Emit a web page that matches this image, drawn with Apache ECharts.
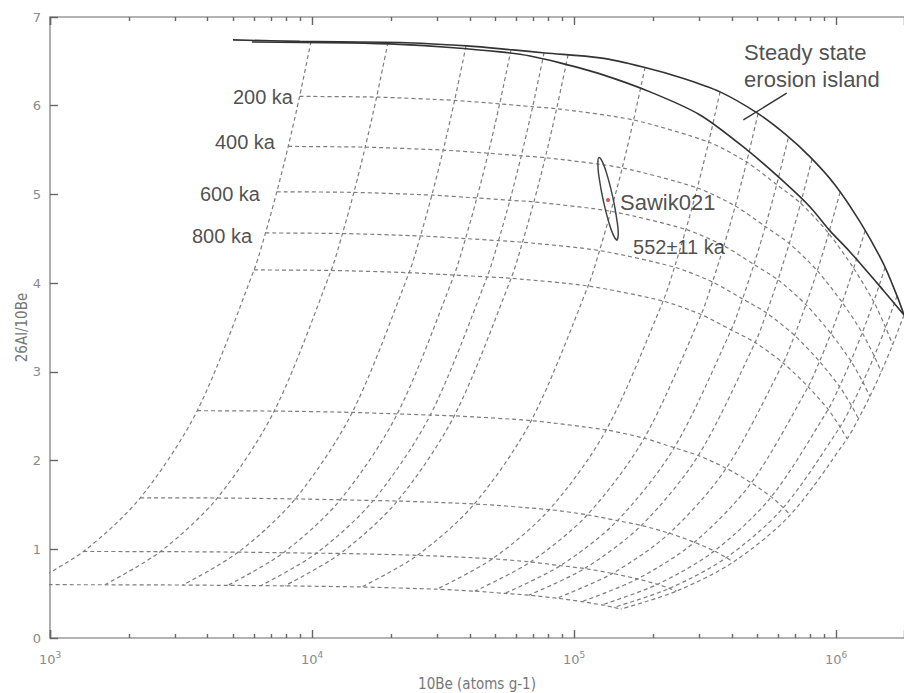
<!DOCTYPE html>
<html><head><meta charset="utf-8">
<script src="https://cdn.jsdelivr.net/npm/echarts@6/dist/echarts.min.js"></script>
<style>html,body{margin:0;padding:0;background:#fff}#c{width:904px;height:693px}</style>
</head><body><div id="c"></div>
<script>
// ---- axis ranges & ticks ----
const xMin = 1000, xMax = 1817000;
const majorTicks = [1000, 10000, 100000, 1000000];
const minorTicks = [2000,3000,4000,5000,6000,7000,8000,9000,
  20000,30000,40000,50000,60000,70000,80000,90000,
  200000,300000,400000,500000,600000,700000,800000,900000];

// ---- steady-state erosion island (solid curves) ----
const upperBe = [4994, 9000, 21670, 39040, 58500, 77500, 125660, 183400, 260000, 360800, 499400, 640000, 796000, 991300, 1235000, 1511000, 1709000, 1817000];
const upperAl = [6.742, 6.725, 6.713, 6.674, 6.629, 6.595, 6.539, 6.437, 6.310, 6.156, 5.919, 5.680, 5.423, 5.107, 4.690, 4.228, 3.856, 3.641];
const lowerBe = [5900, 9000, 13960, 21670, 33630, 52190, 67950, 88440, 125660, 195000, 302600, 457400, 638800, 796000, 948700, 1131000, 1511000, 1817000];
const lowerAl = [6.719, 6.714, 6.708, 6.691, 6.657, 6.607, 6.561, 6.483, 6.359, 6.156, 5.896, 5.502, 5.130, 4.859, 4.589, 4.352, 3.923, 3.641];

// ---- burial grid: isochron nodes (one value per erosion-rate line) ----
const iso0Be    = [9910, 19500, 38700, 57480, 76830, 94870, 186600, 360800, 503800, 656000, 809900, 1035800, 1290300, 1538200, 1709000, 1817000];
const iso0Al    = [6.724, 6.715, 6.674, 6.631, 6.596, 6.572, 6.431, 6.156, 5.910, 5.629, 5.398, 5.024, 4.590, 4.175, 3.856, 3.641];
const iso200Be  = [8967, 17640, 35020, 52010, 69520, 85840, 168800, 326500, 455800, 593600, 732800, 937200, 1167000, 1392000, 1546000, 1644000];
const iso200Al  = [6.105, 6.097, 6.060, 6.021, 5.989, 5.967, 5.839, 5.590, 5.366, 5.111, 4.901, 4.562, 4.168, 3.791, 3.501, 3.306];
const iso400Be  = [8113, 15960, 31680, 47060, 62900, 77670, 152800, 295400, 412500, 537100, 663100, 848000, 1056000, 1259000, 1399000, 1488000];
const iso400Al  = [5.541, 5.533, 5.499, 5.464, 5.435, 5.415, 5.299, 5.073, 4.870, 4.638, 4.448, 4.140, 3.782, 3.440, 3.177, 3.000];
const iso600Be  = [7341, 14450, 28670, 42580, 56920, 70280, 138200, 267300, 373200, 486000, 600000, 767300, 955800, 1139000, 1266000, 1346000];
const iso600Al  = [5.030, 5.023, 4.992, 4.960, 4.934, 4.916, 4.810, 4.605, 4.421, 4.210, 4.038, 3.758, 3.433, 3.123, 2.884, 2.723];
const iso800Be  = [6643, 13070, 25940, 38530, 51500, 63590, 125100, 241800, 337700, 439700, 542900, 694300, 864900, 1031000, 1146000, 1218000];
const iso800Al  = [4.566, 4.559, 4.532, 4.502, 4.479, 4.462, 4.367, 4.180, 4.013, 3.822, 3.665, 3.411, 3.117, 2.835, 2.618, 2.472];
const iso1000Be = [6010, 11830, 23470, 34860, 46600, 57540, 113200, 218800, 305600, 397900, 491200, 628200, 782600, 932900, 1036000, 1102000];
const iso1000Al = [4.149, 4.143, 4.118, 4.091, 4.070, 4.055, 3.968, 3.798, 3.646, 3.473, 3.331, 3.100, 2.832, 2.576, 2.379, 2.246];
const iso2000Be = [3646, 7174, 14240, 21150, 28270, 34900, 68650, 132700, 185300, 241300, 298000, 381100, 474700, 565900, 628700, 668500];
const iso2000Al = [2.562, 2.558, 2.543, 2.526, 2.513, 2.504, 2.450, 2.345, 2.252, 2.145, 2.057, 1.914, 1.749, 1.591, 1.469, 1.387];
const iso3000Be = [2211, 4350, 8634, 12820, 17140, 21170, 41630, 80500, 112400, 146400, 180700, 231100, 287900, 343200, 381300, 405400];
const iso3000Al = [1.580, 1.578, 1.568, 1.558, 1.550, 1.544, 1.511, 1.447, 1.389, 1.323, 1.269, 1.181, 1.079, 0.981, 0.906, 0.856];
const iso4000Be = [1341, 2638, 5236, 7777, 10400, 12840, 25250, 48820, 68160, 88760, 109600, 140100, 174600, 208100, 231200, 245800];
const iso4000Al = [0.975, 0.974, 0.968, 0.961, 0.956, 0.953, 0.932, 0.893, 0.857, 0.816, 0.783, 0.728, 0.666, 0.605, 0.559, 0.528];
const iso5000Be = [822, 1619, 3212, 4771, 6377, 7874, 15490, 29950, 41820, 54450, 67220, 85970, 107100, 127700, 141800, 150800];
const iso5000Al = [0.601, 0.600, 0.597, 0.593, 0.590, 0.588, 0.575, 0.550, 0.528, 0.503, 0.483, 0.449, 0.410, 0.373, 0.345, 0.326];

// ---- sample ----
const sampleBe = 134800, sampleAl = 4.938;
const ellipseBe = [145900, 147500, 145500, 140800, 134500, 128600, 124600, 123300, 124900, 129200, 135200, 141400, 145900];
const ellipseAl = [4.481, 4.549, 4.725, 4.962, 5.194, 5.361, 5.417, 5.349, 5.174, 4.937, 4.705, 4.538, 4.481];

// ---- annotations ----
const ageLabels = ['200 ka', '400 ka', '600 ka', '800 ka'];
const ageLabelBe = [8460, 7223, 6331, 5902];
const ageLabelAl = [6.099, 5.592, 5.006, 4.532];
const islandLabel = 'Steady state\nerosion island';
const islandLabelPos = [445700, 6.443];
const leaderBe = [442900, 648300];
const leaderAl = [5.840, 6.141];
const sampleName = 'Sawik021';
const sampleNamePos = [149800, 4.904];
const sampleAge = '552±11 ka';
const sampleAgePos = [168000, 4.408];

const zip = (a, b) => a.map((v, i) => [v, b[i]]);
const isoBe = [iso0Be, iso200Be, iso400Be, iso600Be, iso800Be, iso1000Be, iso2000Be, iso3000Be, iso4000Be, iso5000Be];
const isoAl = [iso0Al, iso200Al, iso400Al, iso600Al, iso800Al, iso1000Al, iso2000Al, iso3000Al, iso4000Al, iso5000Al];

const dash = {type: [4, 3], color: '#7d7d7d', width: 1.2};
const series = [];
for (let i = 1; i < isoBe.length; i++) {
  series.push({type: 'line', data: zip(isoBe[i], isoAl[i]), symbol: 'none', smooth: 0.25,
    lineStyle: dash, silent: true, z: 2});
}
for (let j = 0; j < iso0Be.length; j++) {
  series.push({type: 'line', data: isoBe.map((r, i) => [r[j], isoAl[i][j]]), symbol: 'none', smooth: 0.3,
    lineStyle: dash, silent: true, z: 2});
}
series.push({type: 'line', data: zip(upperBe, upperAl), symbol: 'none', smooth: 0.3,
  lineStyle: {color: '#333', width: 1.6}, z: 5});
series.push({type: 'line', data: zip(lowerBe, lowerAl), symbol: 'none', smooth: 0.3,
  lineStyle: {color: '#333', width: 1.6}, z: 5});
series.push({type: 'line', data: zip(leaderBe, leaderAl), symbol: 'none',
  lineStyle: {color: '#333', width: 1.4}, z: 5});
series.push({type: 'line', data: zip(ellipseBe, ellipseAl), symbol: 'none', smooth: true,
  lineStyle: {color: '#444', width: 1.5}, z: 6});
series.push({type: 'scatter', data: [[sampleBe, sampleAl]], symbolSize: 4,
  itemStyle: {color: '#e02020'}, z: 7});

const txt = {color: '#222', fontSize: 20, fontFamily: 'Liberation Sans, Arial, sans-serif'};
series.push({type: 'scatter', symbolSize: 0, z: 8, silent: true,
  data: ageLabels.map((t, i) => ({value: [ageLabelBe[i], ageLabelAl[i]],
    label: {show: true, position: 'inside', formatter: t, align: 'right', verticalAlign: 'middle', ...txt}}))
    .concat([
      {value: islandLabelPos, label: {show: true, position: 'inside', formatter: islandLabel, align: 'left',
        verticalAlign: 'middle', lineHeight: 27, ...txt, fontSize: 22}},
      {value: sampleNamePos, label: {show: true, position: 'inside', formatter: sampleName, align: 'left',
        verticalAlign: 'middle', ...txt, fontSize: 22}},
      {value: sampleAgePos, label: {show: true, position: 'inside', formatter: sampleAge, align: 'left',
        verticalAlign: 'middle', ...txt}}
    ])
});

const axisGray = '#9a9a9a', labelGray = '#8a8a8a', tickGray = '#666';
// minor tick axes work in decades (log10 of the 10Be axis) so the 2..9 ticks sit on the log scale
const minorAxis = (pos) => ({type: 'value', gridIndex: 0, position: pos,
  min: Math.log10(xMin), max: Math.log10(xMax),
  axisLine: {show: false}, splitLine: {show: false}, axisLabel: {show: false},
  axisTick: {show: true, inside: true, length: 4, customValues: minorTicks.map(v => Math.log10(v)),
    lineStyle: {color: tickGray, width: 1.4}}});
const option = {
  animation: false,
  backgroundColor: '#fff',
  grid: {left: 50, right: 0, top: 17, bottom: 55, outerBoundsMode: 'none', containLabel: false},
  xAxis: [
    {type: 'log', logBase: 10, min: xMin, max: xMax, gridIndex: 0, position: 'bottom',
      splitLine: {show: false},
      axisLine: {show: true, lineStyle: {color: axisGray, width: 1.6}},
      axisTick: {show: true, inside: true, length: 8, lineStyle: {color: tickGray, width: 1.4}},
      axisLabel: {customValues: majorTicks, margin: 12,
        formatter: v => '{b|10}{s|' + Math.round(Math.log10(v)) + '}',
        rich: {b: {fontSize: 13, color: labelGray, lineHeight: 18, fontFamily: 'DejaVu Sans'},
               s: {fontSize: 9, color: labelGray, lineHeight: 9, verticalAlign: 'top', fontFamily: 'DejaVu Sans'}}},
      name: '10Be (atoms g-1)', nameLocation: 'middle', nameGap: 38, nameMoveOverlap: false,
      nameTextStyle: {color: '#777', fontSize: 15, fontFamily: 'DejaVu Sans Condensed, DejaVu Sans'}},
    {type: 'log', logBase: 10, min: xMin, max: xMax, gridIndex: 0, position: 'top',
      splitLine: {show: false},
      axisLine: {show: true, lineStyle: {color: axisGray, width: 1.6}},
      axisTick: {show: true, inside: true, length: 8, lineStyle: {color: tickGray, width: 1.4}},
      axisLabel: {show: false}},
    minorAxis('bottom'),
    minorAxis('top')
  ],
  yAxis: {type: 'value', min: 0, max: 7, interval: 1,
    axisLine: {show: true, lineStyle: {color: axisGray, width: 1.6}},
    axisTick: {show: true, inside: true, length: 8, lineStyle: {color: tickGray, width: 1.4}},
    axisLabel: {color: labelGray, fontSize: 13, margin: 9, fontFamily: 'DejaVu Sans'},
    splitLine: {show: false},
    name: '26Al/10Be', nameLocation: 'middle', nameGap: 21, nameRotate: 90, nameMoveOverlap: false,
    nameTextStyle: {color: '#777', fontSize: 15, fontFamily: 'DejaVu Sans Condensed, DejaVu Sans'}},
  series: series.map(s => ({xAxisIndex: 0, yAxisIndex: 0, ...s}))
};
const chart = echarts.init(document.getElementById('c'), null, {renderer: 'svg'});
chart.setOption(option);
</script></body></html>
